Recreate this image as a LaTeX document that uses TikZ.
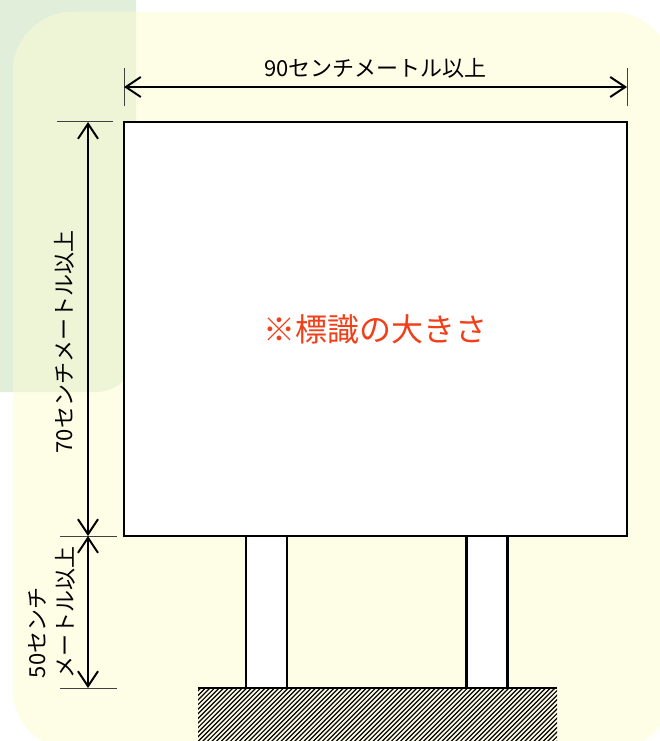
\documentclass[tikz,border=0pt]{standalone}
\usepackage{fontspec}
\setmainfont{Noto Sans CJK JP}
\usepackage{xcolor}
\usetikzlibrary{arrows.meta}
\usetikzlibrary{positioning}
\definecolor{bggreen}{RGB}{225,238,218}
\definecolor{bgyellow}{RGB}{254,254,230}
\definecolor{bgmix}{RGB}{238,245,214}
\definecolor{signred}{RGB}{240,64,26}

\tikzset{
  dimline/.style={line width=2pt, {Straight Barb[length=15pt,width=20pt]}-{Straight Barb[length=15pt,width=20pt]}},
  extline/.style={line width=1pt, black!75},
  dimlabel/.style={inner sep=0pt, font=\fontsize{22}{28}\selectfont},
  signbox/.style={draw, line width=2.5pt, fill=white, inner sep=0pt, outer sep=0pt,
    minimum width=503pt, minimum height=414pt, text=signred, font=\fontsize{32}{32}\selectfont},
  postbox/.style={draw, line width=2.5pt, fill=white, inner sep=0pt, outer sep=0pt,
    minimum width=41pt, minimum height=152pt}
}

\begin{document}
\begin{tikzpicture}[x=1pt, y=-1pt]
  \useasboundingbox (0,0) rectangle (660,741);
  % background
  \fill[bggreen] (-60,-60) [rounded corners=40pt] rectangle (136,392);
  \fill[bgyellow] (13,12) [rounded corners=60pt] rectangle (672,750);
  \begin{scope}
    \clip (13,12) [rounded corners=60pt] rectangle (672,750);
    \fill[bgmix] (-60,-60) [rounded corners=40pt] rectangle (136,392);
  \end{scope}

  % ground
  \begin{scope}
    \clip (198,688) rectangle (557,741);
    \foreach \i in {130,134.6,...,560} {
      \draw[line width=1.2pt] (\i,745) -- (\i+60,685);
    }
  \end{scope}
  \draw[line width=2.5pt] (198,688) -- (557,688);

  % posts and sign
  \node[postbox] (postL) at (266.5,612) {};
  \node[postbox] (postR) at (487,612) {};
  \node[signbox] (sign) at (375.5,329) {※標識の大きさ};

  % width
  \draw[extline] (124,68) -- (124,106);
  \draw[extline] (627,68) -- (627,106);
  \coordinate (wL) at (124,87);
  \coordinate (wR) at (627,87);
  \draw[dimline] (wL) -- (wR);
  \node[dimlabel] (wlabel) at (375.5,68) {90センチメートル以上};

  % heights
  \draw[extline] (57,122) -- (113,122);
  \draw[extline] (60,536) -- (117,536);
  \draw[extline] (60,688) -- (117,688);
  \coordinate (hT) at (88,122);
  \coordinate (hM) at (88,536);
  \coordinate (hB) at (88,688);
  \draw[dimline] (hT) -- (hM);
  \draw[dimline] (hM) -- (hB);
  \node[dimlabel, rotate=90] (hlabel) at (64,342) {70センチメートル以上};
  \node[dimlabel, rotate=90, align=left] (plabel) at (52,612) {50センチ\\メートル以上};
\end{tikzpicture}
\end{document}
